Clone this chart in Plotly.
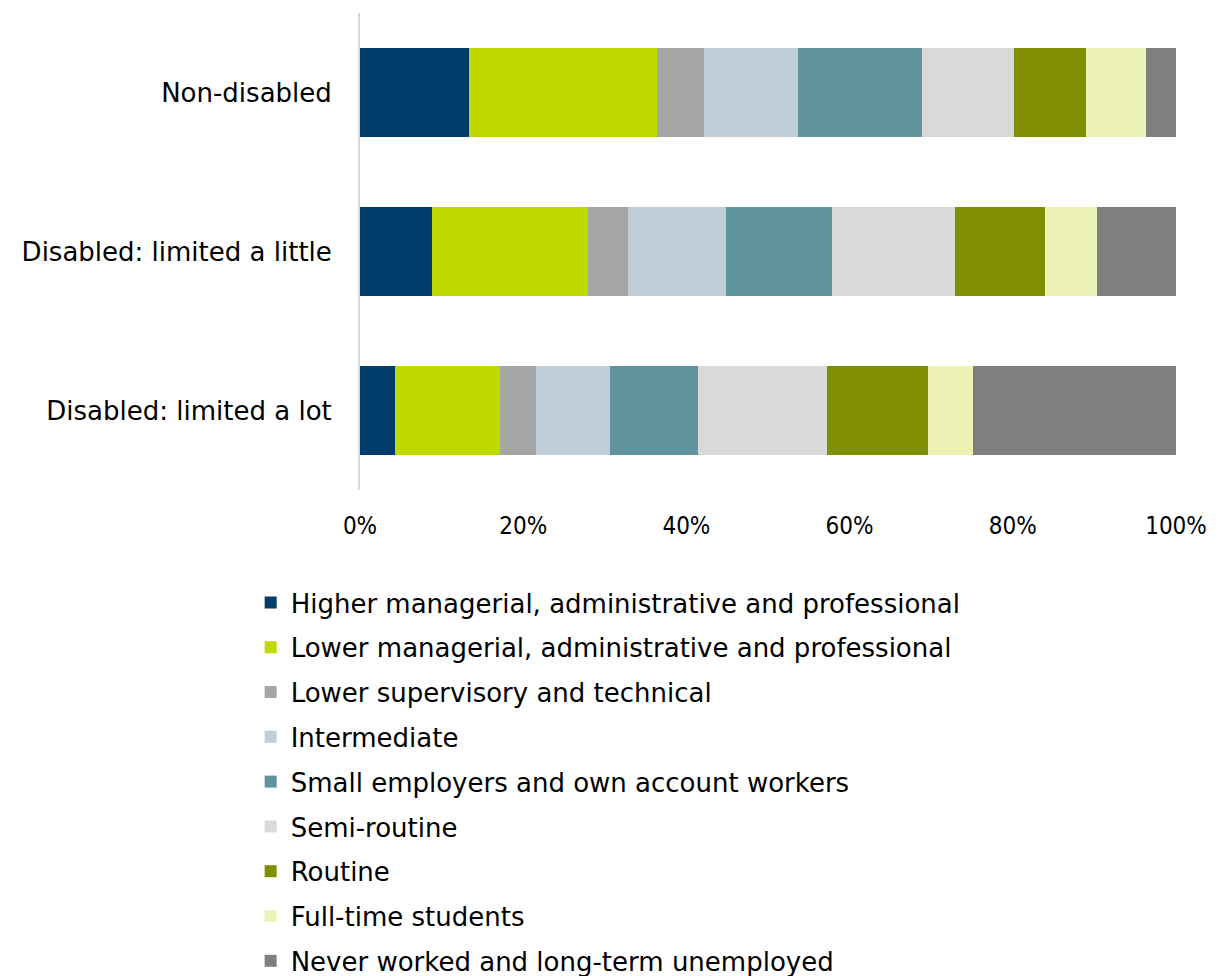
import plotly.graph_objects as go

categories = ["Non-disabled", "Disabled: limited a little", "Disabled: limited a lot"]

series_names = [
    "Higher managerial, administrative and professional",
    "Lower managerial, administrative and professional",
    "Lower supervisory and technical",
    "Intermediate",
    "Small employers and own account workers",
    "Semi-routine",
    "Routine",
    "Full-time students",
    "Never worked and long-term unemployed",
]

# Share (%) of each group in each class; rows follow series_names, columns follow categories
higher_managerial = [13.4, 8.8, 4.3]
lower_managerial = [23.0, 19.1, 12.9]
lower_supervisory = [5.7, 4.9, 4.4]
intermediate = [11.6, 12.1, 9.0]
small_employers = [15.2, 13.0, 10.8]
semi_routine = [11.3, 15.0, 15.8]
routine = [8.8, 11.1, 12.4]
students = [7.3, 6.3, 5.5]
never_worked = [3.7, 9.7, 25.0]

series_values = [
    higher_managerial, lower_managerial, lower_supervisory, intermediate,
    small_employers, semi_routine, routine, students, never_worked,
]

colors = [
    "#003D6B", "#BFD800", "#A5A5A5", "#C0CED9", "#5F949F",
    "#D9D9D9", "#808F00", "#EDF3B5", "#7F7F7F",
]

tick_vals = [0, 20, 40, 60, 80, 100]
tick_text = ["0%", "20%", "40%", "60%", "80%", "100%"]

fig = go.Figure()
for i, (name, vals, col) in enumerate(zip(series_names, series_values, colors)):
    fig.add_trace(go.Bar(
        y=categories,
        x=vals,
        name=name,
        orientation="h",
        marker=dict(color=col, line=dict(width=0)),
        legendgroup=f"g{i}",
    ))

fig.update_layout(
    barmode="stack",
    bargap=0.44,
    width=1218,
    height=976,
    margin=dict(l=360, r=42, t=13, b=486, autoexpand=False),
    paper_bgcolor="white",
    plot_bgcolor="white",
    font=dict(family="DejaVu Sans", color="black", size=22),
    xaxis=dict(
        range=[0, 100],
        tickvals=tick_vals,
        ticktext=tick_text,
        showgrid=False,
        zeroline=False,
        showline=False,
        ticks="",
        ticklabelstandoff=19,
        tickfont=dict(family="Liberation Sans Narrow, DejaVu Sans Condensed", size=24),
        fixedrange=True,
    ),
    yaxis=dict(
        autorange="reversed",
        showgrid=False,
        zeroline=False,
        showline=True,
        linecolor="#D9D9D9",
        linewidth=2,
        ticks="",
        ticklabelstandoff=21,
        tickfont=dict(family="DejaVu Sans", size=26),
    ),
    legend=dict(
        orientation="v",
        x=-0.134,
        xanchor="left",
        y=-0.1866,
        yanchor="top",
        traceorder="grouped",
        tracegroupgap=8,
        font=dict(family="DejaVu Sans", size=26, color="black"),
        bgcolor="rgba(0,0,0,0)",
        maxheight=1000,
    ),
    showlegend=True,
)

fig.write_html("out.html")
